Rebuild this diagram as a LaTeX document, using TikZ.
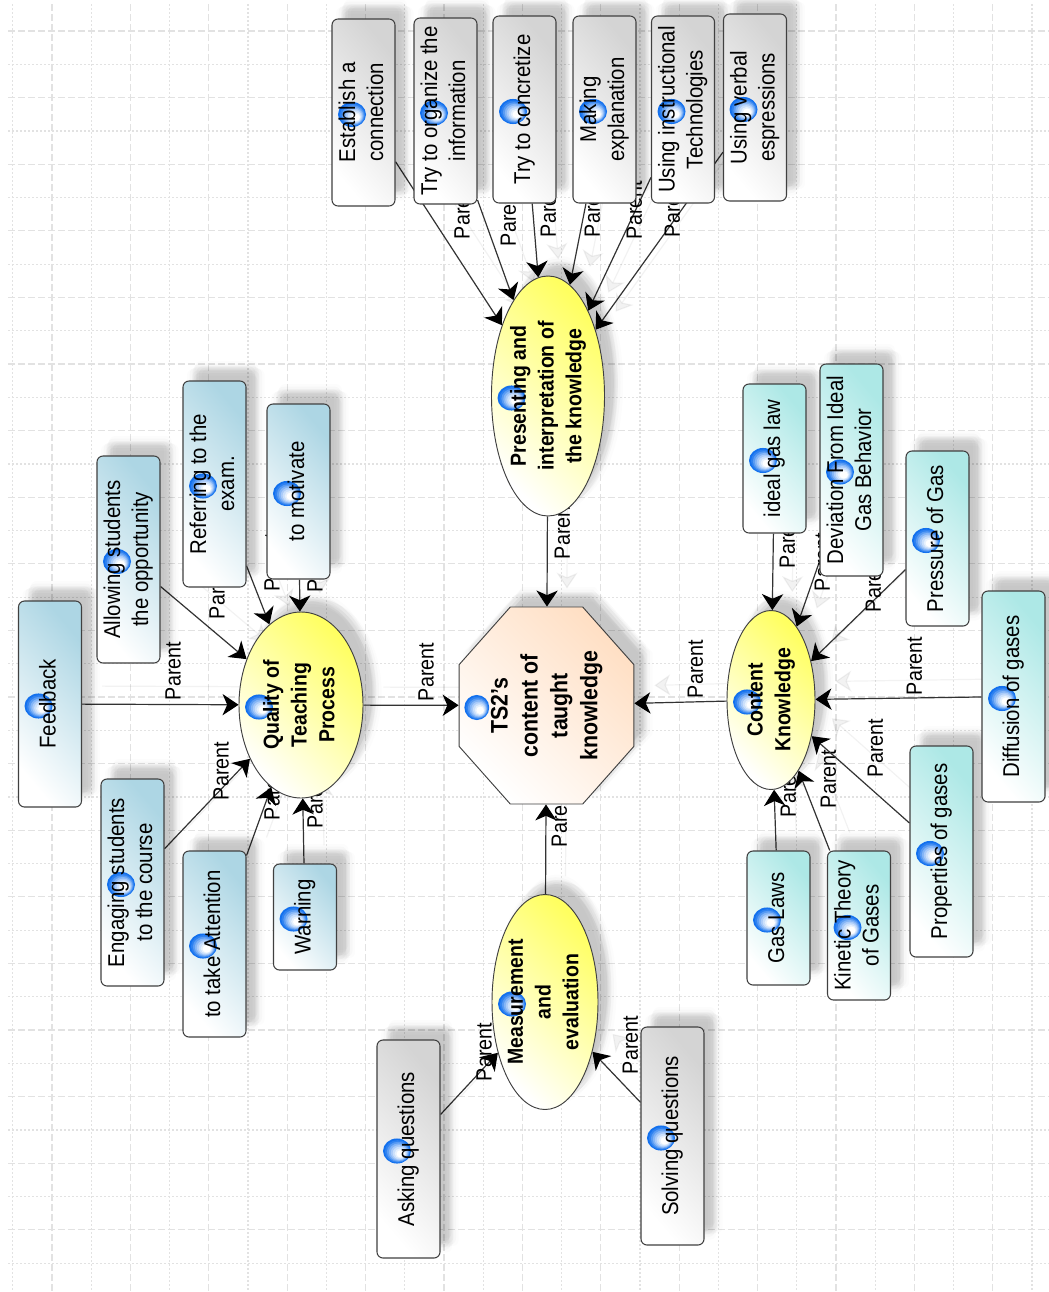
\documentclass[tikz,border=0pt]{standalone}
\usepackage{fontspec}
\setmainfont{Liberation Sans}
\usepackage{tikz}
\usetikzlibrary{shapes,arrows.meta,backgrounds,shadows}
\definecolor{grayend}{HTML}{D4D4D4}
\definecolor{blueend}{HTML}{ADD6E4}
\definecolor{cyanend}{HTML}{ADE8E6}
\definecolor{yellowend}{HTML}{FFFF60}
\definecolor{peachend}{HTML}{FFDFC4}
\definecolor{griddash}{HTML}{E2E2E2}
\definecolor{ballblue}{HTML}{1270EE}
\newcommand{\vtext}[1]{\makebox[0pt]{\smash{\raisebox{-0.5\height}{\scalebox{1.12}[1]{\rotatebox{90}{\begin{tabular}{@{}c@{}}#1\end{tabular}}}}}}}
\tikzset{softshadow/.style={
    general shadow={shadow xshift=7pt,shadow yshift=8pt,fill=black,opacity=.025},
    general shadow={shadow xshift=10pt,shadow yshift=8pt,fill=black,opacity=.025},
    general shadow={shadow xshift=7pt,shadow yshift=11pt,fill=black,opacity=.025},
    general shadow={shadow xshift=10pt,shadow yshift=11pt,fill=black,opacity=.025},
    general shadow={shadow xshift=5pt,shadow yshift=10pt,fill=black,opacity=.018},
    general shadow={shadow xshift=12pt,shadow yshift=10pt,fill=black,opacity=.018},
    general shadow={shadow xshift=8pt,shadow yshift=6pt,fill=black,opacity=.018},
    general shadow={shadow xshift=8pt,shadow yshift=13pt,fill=black,opacity=.018},
    general shadow={shadow xshift=3pt,shadow yshift=9pt,fill=black,opacity=.012},
    general shadow={shadow xshift=14pt,shadow yshift=9pt,fill=black,opacity=.012},
    general shadow={shadow xshift=9pt,shadow yshift=4pt,fill=black,opacity=.012},
    general shadow={shadow xshift=9pt,shadow yshift=15pt,fill=black,opacity=.012}},
  hgt/.style={minimum height=#1*0.75pt},
  wdt/.style={minimum width=#1*0.75pt}}
\tikzstyle{icon} = [path picture={
    \coordinate (ballc) at ([xshift=15pt,yshift=-1.5pt]path picture bounding box.west);
    \foreach \r/\c in {1/100,.9/88,.8/70,.7/52,.6/36,.5/22,.4/10,.3/0}
        \fill [ballblue!\c!white] ([xshift={(1-\r)*4pt},yshift={-(1-\r)*3pt}]ballc) ellipse ({\r*10.5pt} and {\r*9.4pt});
    }]
\tikzstyle{block} = [rectangle, draw=black!75, line width=0.8pt, rounded corners=4.5pt, inner sep=0pt,
    minimum width=47.25pt, font=\fontsize{15.3}{18.8}\selectfont, softshadow, icon]
\tikzstyle{graybox} = [block, top color=grayend, bottom color=white, shading angle=-50]
\tikzstyle{bluebox} = [block, top color=blueend, bottom color=white, shading angle=-50]
\tikzstyle{cyanbox} = [block, top color=cyanend, bottom color=white, shading angle=-50]
\tikzstyle{topic} = [ellipse, draw=black!75, line width=0.7pt, inner sep=0pt, softshadow, icon,
    font=\fontsize{14.6}{18.6}\selectfont\bfseries, top color=yellowend, bottom color=white, shading angle=-45]
\tikzstyle{root} = [regular polygon, regular polygon sides=8, draw=black!75, line width=0.7pt, inner sep=0pt,
    minimum size=159.9pt, xscale=0.888, transform shape, softshadow, icon,
    font=\fontsize{16}{20}\selectfont\bfseries, top color=peachend, bottom color=white, shading angle=-45]
\tikzstyle{line} = [draw=black!80, line width=0.9pt, -{Stealth[length=12pt,width=16pt,inset=3.5pt,color=black]}]
\tikzstyle{ghost} = [draw=black, opacity=.05, line width=0.9pt, -{Stealth[length=12pt,width=16pt,inset=3.5pt]},
    transform canvas={xshift=15pt,yshift=13.5pt}]
\tikzstyle{parentlabel} = [inner sep=0pt, xshift=2pt, font=\fontsize{14.8}{17}\selectfont]
\tikzstyle{griddashed} = [griddash, line width=0.9pt, dash pattern=on 5pt off 2.5pt]
\tikzstyle{griddotted} = [griddash, line width=0.9pt, dash pattern=on 1.2pt off 1.8pt]

\begin{document}
\begin{tikzpicture}[x=0.75pt, y=-0.75pt]
    \useasboundingbox (0,0) rectangle (1049,1292);
    % Place nodes
    \node [root] (ts2) at (546.5,705.5) {\scalebox{1.126}[1]{\vtext{TS2's\\content of\\taught\\knowledge}}};
    \node [topic, wdt=113, hgt=240] (present) at (548,396) {\vtext{Presenting and\\interpretation of\\the knowledge}};
    \node [topic, wdt=124, hgt=186] (quality) at (301,705) {\vtext{Quality of\\Teaching\\Process}};
    \node [topic, wdt=88, hgt=179] (content) at (771,700) {\vtext{Content\\Knowledge}};
    \node [topic, wdt=106, hgt=215] (measure) at (545,1002) {\vtext{Measurement\\and\\evaluation}};
    % presenting
    \node [graybox, hgt=187] (pres1) at (363.5,112.5) {\vtext{Establish a\\connection}};
    \node [graybox, hgt=186] (pres2) at (445.5,111) {\vtext{Try to organize the\\information}};
    \node [graybox, hgt=187] (pres3) at (524.5,109.5) {\vtext{Try to concretize}};
    \node [graybox, hgt=187] (pres4) at (604.5,109.5) {\vtext{Making\\explanation}};
    \node [graybox, hgt=187] (pres5) at (683,109.5) {\vtext{Using instructional\\Technologies}};
    \node [graybox, hgt=187] (pres6) at (755,107.5) {\vtext{Using verbal\\espressions}};
    % teaching
    \node [bluebox, hgt=206] (teach1) at (50,704) {\vtext{Feedback}};
    \node [bluebox, hgt=207] (teach2) at (128.5,559.5) {\vtext{Allowing students\\the opportunity}};
    \node [bluebox, hgt=207] (teach3) at (132.5,882.5) {\vtext{Engaging students\\to the course}};
    \node [bluebox, hgt=206] (teach4) at (214.5,484) {\vtext{Referring to the\\exam.}};
    \node [bluebox, hgt=186] (teach5) at (214.5,944) {\vtext{to take Attention}};
    \node [bluebox, hgt=175] (teach6) at (298.5,491.5) {\vtext{to motivate}};
    \node [bluebox, hgt=106] (teach7) at (305,917) {\vtext{Warning}};
    % content
    \node [cyanbox, hgt=149] (gas1) at (774.5,458.5) {\vtext{ideal gas law}};
    \node [cyanbox, hgt=134] (gas2) at (778.5,918) {\vtext{Gas Laws}};
    \node [cyanbox, hgt=212] (gas3) at (851.5,470) {\vtext{Deviation From Ideal\\Gas Behavior}};
    \node [cyanbox, hgt=149] (gas4) at (859,925.5) {\vtext{Kinetic Theory\\of Gases}};
    \node [cyanbox, hgt=175] (gas5) at (937.5,538.5) {\vtext{Pressure of Gas}};
    \node [cyanbox, hgt=211] (gas6) at (941.5,851.5) {\vtext{Properties of gases}};
    \node [cyanbox, hgt=211] (gas7) at (1013.5,696.5) {\vtext{Diffusion of gases}};
    % measurement
    \node [graybox, hgt=218] (meas1) at (408.5,1149) {\vtext{Asking questions}};
    \node [graybox, hgt=218] (meas2) at (672.5,1136) {\vtext{Solving questions}};
    \begin{scope}[on background layer]
    % Draw paper
    \fill [white] (0,0) rectangle (1049,1292);
    \foreach \k in {0,...,13}
        \draw [griddotted] (12.7+78.4*\k,4) -- (12.7+78.4*\k,1292);
    \foreach \k in {0,...,12}
        \draw [griddashed] (51.9+78.4*\k,4) -- (51.9+78.4*\k,1292);
    \foreach \k in {0,...,18}
        \draw [griddashed] (8,31+66.6*\k) -- (1049,31+66.6*\k);
    \foreach \k in {0,...,18}
        \draw [griddotted] (8,64.3+66.6*\k) -- (1049,64.3+66.6*\k);
    % Draw edges
    \foreach \from/\to/\lx/\ly in {
        pres1/present/462/210, pres2/present/508/217, pres3/present/548/208,
        pres4/present/592/208, pres5/present/634/210, pres6/present/672/208,
        teach1/quality/173/671, teach2/quality/217/590, teach3/quality/221/771,
        teach4/quality/272/562, teach5/quality/272/791, teach6/quality/315/563,
        teach7/quality/315/799,
        gas1/content/787/539, gas2/content/788/788, gas3/content/822/562,
        gas4/content/828/779, gas5/content/873/583, gas6/content/875/748,
        gas7/content/914/666,
        meas1/measure/484/1052, meas2/measure/630/1045,
        present/ts2/562/530, quality/ts2/426/672, content/ts2/695/669, measure/ts2/559/818} {
        \path [ghost] (\from) -- (\to);
        \path [line] (\from) -- (\to);
        \node [parentlabel] (lbl\from) at (\lx,\ly) {\vtext{Parent}};
    }
    \end{scope}
\end{tikzpicture}
\end{document}
